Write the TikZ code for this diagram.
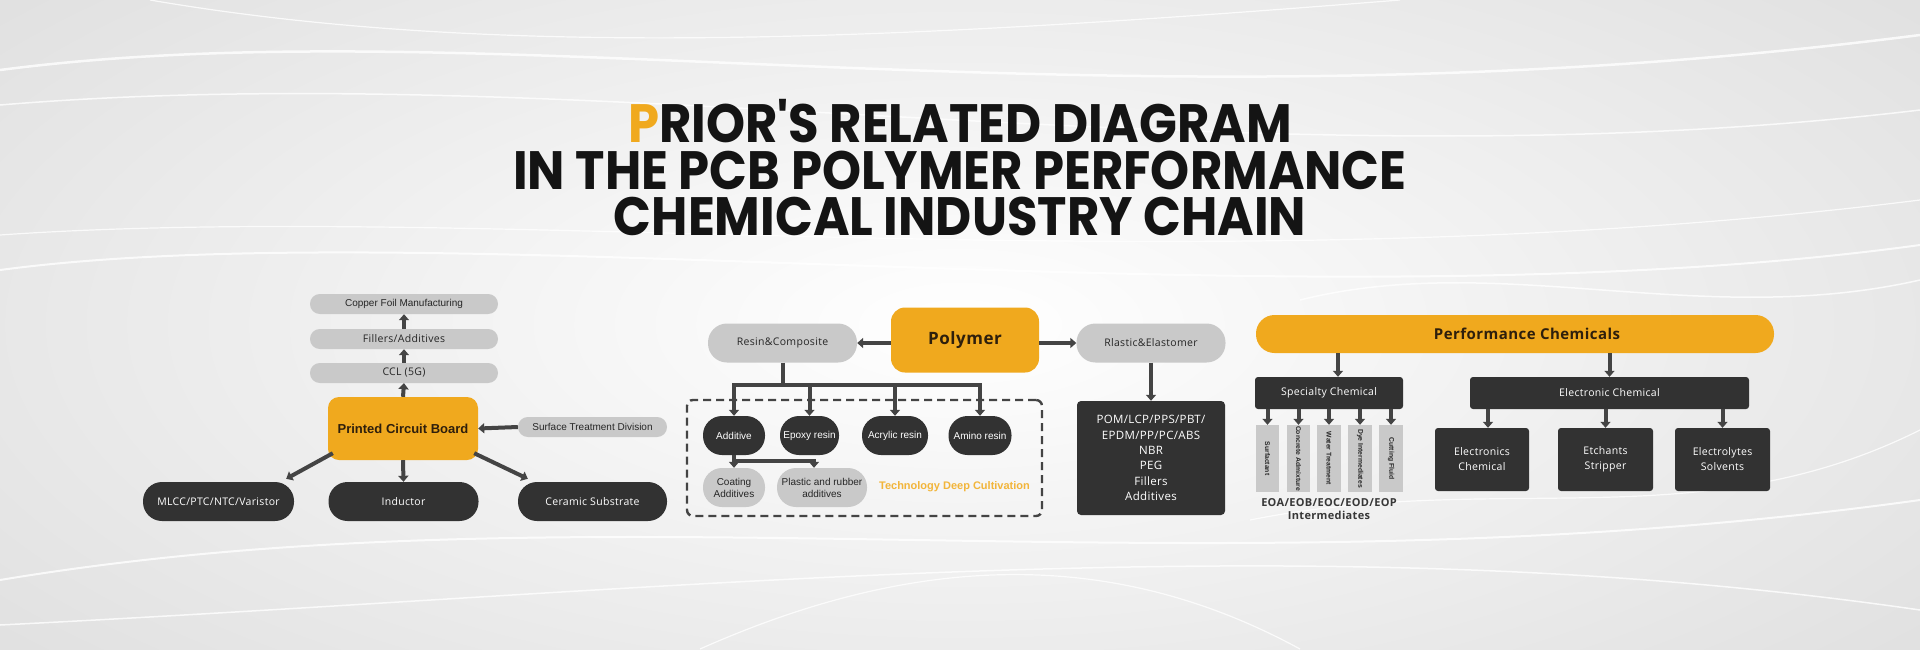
\documentclass[tikz,border=0pt]{standalone}
\usepackage{fontspec}
\setmainfont{Open Sans}
\newfontfamily\arial{Liberation Sans}
\newfontfamily\spaced{Open Sans}[LetterSpace=3]
\newfontfamily\titlefont{Poppins}
\usetikzlibrary{arrows.meta,calc}
\definecolor{ylw}{HTML}{F0A91E}
\definecolor{darkbox}{HTML}{323232}
\definecolor{pillgray}{HTML}{C9C9C9}
\definecolor{arr}{HTML}{444444}
\definecolor{brownt}{HTML}{2E1F0C}
\definecolor{orng}{HTML}{F2B53A}
\definecolor{bgg}{HTML}{E0E0E0}
\begin{document}
\begin{tikzpicture}[x=1pt,y=-1pt,
  every node/.style={inner sep=0pt,align=center},
  sz/.style 2 args={minimum width=#1pt,minimum height=#2pt},
  gp/.style={fill=pillgray,text=black!85,rounded corners=#1pt},
  dp/.style={fill=darkbox,text=white!94,rounded corners=#1pt},
  yb/.style={fill=ylw,text=brownt,rounded corners=#1pt},
  vr/.style={fill=pillgray,text=black!85,minimum width=67pt,minimum height=23.6pt,rotate=-90,font=\arial\bfseries\fontsize{6.8}{8}\selectfont},
  ln/.style={draw=arr,line width=4pt},
  arw/.style={draw=arr,line width=4pt,-{Triangle[width=10pt,length=6pt]}},
  fa/.style={font=\arial\fontsize{10}{12}\selectfont},
  fs/.style={font=\spaced\fontsize{10.5}{15}\selectfont},
  wave/.style={draw=white,opacity=0.8,line width=#1pt}
]
% background
\useasboundingbox (0,0) rectangle (1920,649);
\shade[inner color=white,outer color=bgg] (-300,-200) rectangle (2220,849);
\draw[wave=2.5] (0,70) .. controls (500,5) and (1100,140) .. (1920,35);
\draw[wave=1.5] (0,105) .. controls (600,55) and (1250,190) .. (1920,110);
\draw[wave=1.2] (150,0) .. controls (500,60) and (900,40) .. (1400,0);
\draw[wave=2] (0,270) .. controls (450,210) and (1300,330) .. (1920,245);
\draw[wave=1.2] (0,235) .. controls (500,200) and (1200,290) .. (1920,200);
\draw[wave=1.5] (1300,300) .. controls (1500,250) and (1700,330) .. (1920,280);
\draw[wave=1.2] (1250,520) .. controls (1500,470) and (1700,540) .. (1920,430);
\draw[wave=2] (0,580) .. controls (600,480) and (1200,600) .. (1920,500);
\draw[wave=1.5] (0,625) .. controls (700,590) and (1300,520) .. (1920,610);
\draw[wave=1.2] (700,649) .. controls (900,560) and (1100,540) .. (1300,649);
% title
\node[anchor=base,font=\titlefont\bfseries\fontsize{54}{54}\selectfont,text=black!92] (t1) at (960,142) {\scalebox{0.92}[1]{{\color{ylw}P}RIOR'S RELATED DIAGRAM}};
\node[anchor=base,font=\titlefont\bfseries\fontsize{54}{54}\selectfont,text=black!92] (t2) at (960,189) {\scalebox{0.92}[1]{IN THE PCB POLYMER PERFORMANCE}};
\node[anchor=base,font=\titlefont\bfseries\fontsize{54}{54}\selectfont,text=black!92] (t3) at (960,235) {\scalebox{0.92}[1]{CHEMICAL INDUSTRY CHAIN}};
% ---------- PCB ----------
\node[gp=9.8,sz={188}{20},fa] (cu) at (404,304) {Copper Foil Manufacturing};
\node[gp=9.8,sz={188}{20},fs] (fil) at (404,339) {Fillers/Additives};
\node[gp=9.8,sz={188}{20},fs] (ccl) at (404,373) {CCL (5G)};
\node[yb=11,sz={150}{63},font=\arial\bfseries\fontsize{13}{15}\selectfont] (pcb) at (403,428.5) {Printed Circuit Board};
\node[gp=9.8,sz={149}{20},fa] (std) at (592.5,427) {Surface Treatment Division};
\node[dp=19,sz={151}{39},fs] (mlcc) at (218.5,501.5) {MLCC/PTC/NTC/Varistor};
\node[dp=19,sz={150}{39},fs] (ind) at (403.5,501.5) {Inductor};
\node[dp=19,sz={149}{39},fs] (cer) at (592.5,501.5) {Ceramic Substrate};
\draw[arw] (ccl.north) -- (fil.south);
\draw[arw] (fil.north) -- (cu.south);
\draw[arw] (pcb.north) -- (ccl.south);
\draw[arw] (std.west) -- (pcb.east);
\draw[arw] (pcb.south) -- (ind.north);
\draw[arw] ($(pcb.south west)+(5,-7)$) -- ($(mlcc.north east)+(-8,-3)$);
\draw[arw] ($(pcb.south east)+(-4,-7)$) -- ($(cer.north west)+(10,-3)$);
% ---------- Polymer ----------
\node[gp=19,sz={149}{39},fs] (resin) at (782.5,343) {Resin\&Composite};
\node[yb=14,sz={148}{65},font=\spaced\bfseries\fontsize{17}{20}\selectfont] (poly) at (965,340) {Polymer};
\node[gp=19,sz={149}{39},fs] (rlas) at (1151,343) {Rlastic\&Elastomer};
\node[dp=4,sz={148}{114},font=\spaced\fontsize{11.5}{15.3}\selectfont] (pom) at (1151,458) {POM/LCP/PPS/PBT/\\EPDM/PP/PC/ABS\\NBR\\PEG\\Fillers\\Additives};
\draw[arw] (poly.west |- resin.east) -- (resin.east);
\draw[arw] (poly.east |- rlas.west) -- (rlas.west);
\draw[arw] (rlas.south) -- (pom.north);
\node[draw=arr,dash pattern=on 8pt off 5pt,line width=2.4pt,rounded corners=6pt,sz={355}{116}] (grp) at (864.5,458) {};
\node[dp=19,sz={62}{39},fa] (add) at (734,435.5) {Additive};
\node[dp=19,sz={59}{39},fa] (epo) at (809.5,435.5) {Epoxy resin};
\node[dp=19,sz={66}{39},fa] (acr) at (895,435.5) {Acrylic resin};
\node[dp=19,sz={63}{39},fa] (ami) at (980,435.5) {Amino resin};
\node[gp=19,sz={62}{39},font=\arial\fontsize{10}{12}\selectfont] (coat) at (734,487.5) {Coating\\Additives};
\node[gp=19,sz={90}{39},font=\arial\fontsize{10}{12}\selectfont] (plast) at (822,487.5) {Plastic and rubber\\additives};
\node[text=orng,font=\arial\bfseries\fontsize{11}{13}\selectfont] (tdc) at (954.5,487) {Technology Deep Cultivation};
\coordinate (jL) at (734,385);
\coordinate (jR) at (980,385);
\draw[ln] (resin.south) -- (resin.south |- jL);
\draw[ln,line cap=rect] (jL) -- (jR);
\draw[arw] (jL) -- (add.north);
\draw[arw] (epo.north |- jL) -- (epo.north);
\draw[arw] (acr.north |- jL) -- (acr.north);
\draw[arw] (jR) -- (ami.north);
\coordinate (kL) at (734,461);
\coordinate (kR) at (814,461);
\draw[arw] (add.south) -- (coat.north);
\draw[ln,line cap=rect] (kL) -- (kR);
\draw[arw] (kR) -- (kR |- plast.north);
% ---------- Performance Chemicals ----------
\node[yb=18.5,sz={518}{38},font=\spaced\bfseries\fontsize{15}{18}\selectfont] (pc) at (1515,334) {\hspace*{24pt}Performance Chemicals};
\node[dp=3,sz={148}{32},fs] (spec) at (1329,393) {Specialty Chemical};
\node[dp=3,sz={279}{32},fs] (elec) at (1609.5,393) {Electronic Chemical};
\draw[arw] ([xshift=9pt]pc.south -| spec.north) -- ([xshift=9pt]spec.north);
\draw[arw] (pc.south -| elec.north) -- (elec.north);
\node[vr] (v1) at (1267.5,458.5) {Surfactant};
\node[vr] (v2) at (1298.5,458.5) {Concrete Admixture};
\node[vr] (v3) at (1329,458.5) {Water Treatment};
\node[vr] (v4) at (1360,458.5) {Dye Intermediates};
\node[vr] (v5) at (1391,458.5) {Cutting Fluid};
\foreach \v in {v1,v2,v3,v4,v5} \draw[arw] (spec.south -| \v.center) -- (\v.west);
\node[text=black!78,font=\spaced\bfseries\fontsize{11}{13}\selectfont] (eoa) at (1329,509) {EOA/EOB/EOC/EOD/EOP\\Intermediates};
\node[dp=3,sz={94}{63},fs] (ec1) at (1482,459.5) {Electronics\\Chemical};
\node[dp=3,sz={95}{63},fs] (ec2) at (1605.5,459.5) {Etchants\\Stripper};
\node[dp=3,sz={95}{63},fs] (ec3) at (1722.5,459.5) {Electrolytes\\Solvents};
\draw[arw] ([xshift=6pt]elec.south -| ec1.north) -- ([xshift=6pt]ec1.north);
\draw[arw] (elec.south -| ec2.north) -- (ec2.north);
\draw[arw] (elec.south -| ec3.north) -- (ec3.north);
\end{tikzpicture}
\end{document}
